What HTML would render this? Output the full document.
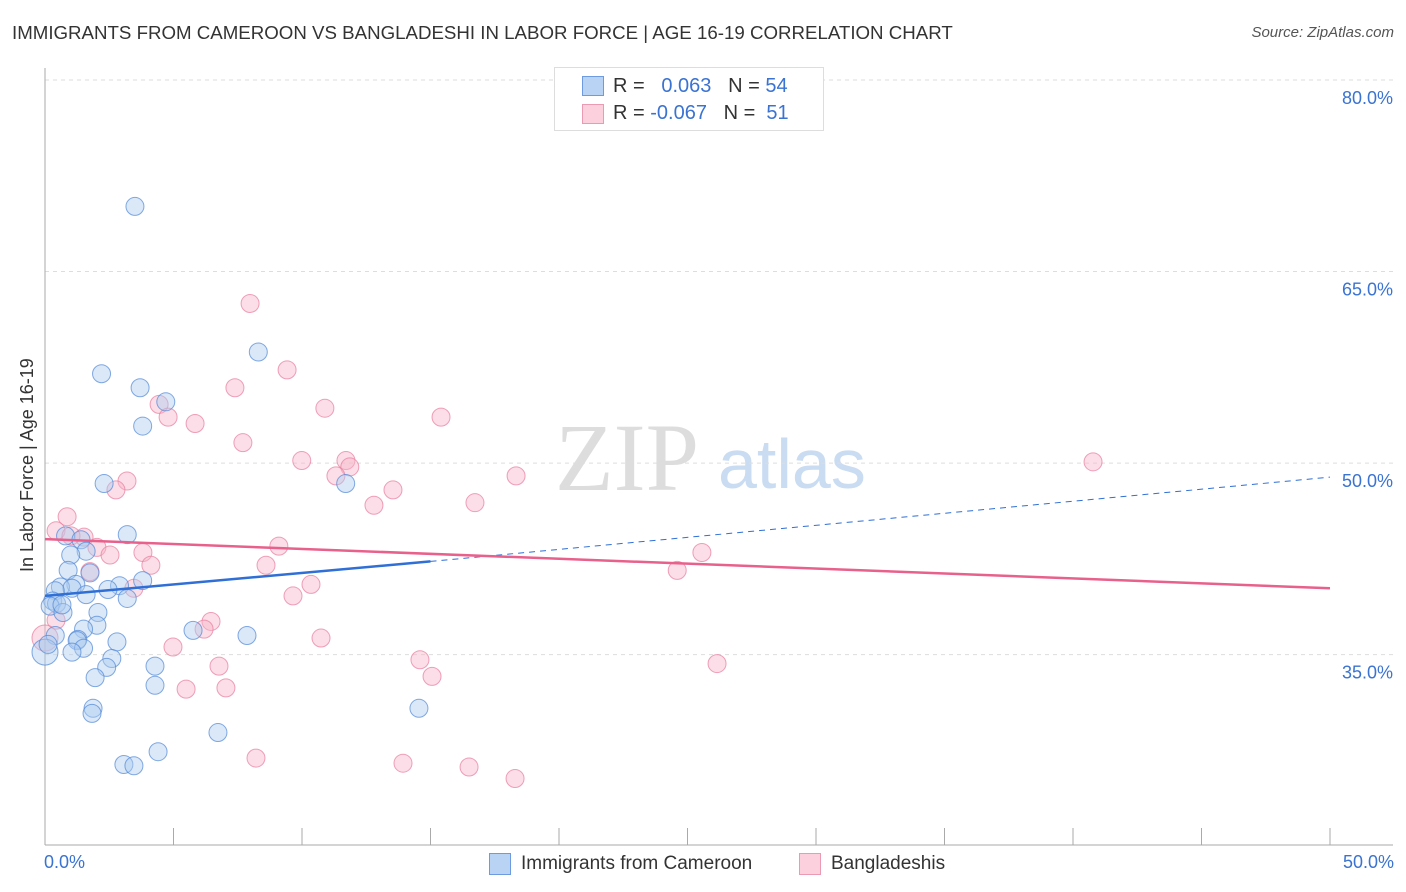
<!DOCTYPE html>
<html><head><meta charset="utf-8"><style>
body{margin:0;background:#fff;font-family:"Liberation Sans",sans-serif}
#wrap{position:relative;width:1406px;height:892px;overflow:hidden}
.t{position:absolute;white-space:nowrap}
</style></head><body>
<div id="wrap">
<div class="t" style="left:12px;top:22px;font-size:18.7px;color:#333">IMMIGRANTS FROM CAMEROON VS BANGLADESHI IN LABOR FORCE | AGE 16-19 CORRELATION CHART</div>
<div class="t" style="right:12px;top:24px;font-size:15px;color:#555;font-style:italic">Source: ZipAtlas.com</div>
<svg id="svg" width="1406" height="892" style="position:absolute;left:0;top:0"></svg>
</div>
<script>
// data values (x: % , y: %)
const cameroonX=[3.5,8.3,2.2,3.7,4.7,3.8,2.3,11.7,3.2,0.8,1.4,1.6,1.0,0.9,1.75,3.8,1.2,0.6,1.05,2.9,2.45,0.4,1.6,3.2,0.3,0.45,0.2,0.7,2.06,2.02,1.5,5.76,7.86,0.4,1.28,1.25,2.8,1.5,1.05,2.6,2.4,4.28,4.28,1.95,1.87,1.83,6.73,4.4,3.07,3.46,14.55,0.0,0.12,0.66];
const cameroonY=[70.1,58.7,57.0,55.9,54.8,52.9,48.4,48.4,44.4,44.3,44.0,43.1,42.8,41.6,41.4,40.8,40.5,40.3,40.2,40.4,40.1,40.0,39.7,39.4,39.2,39.0,38.8,38.3,38.3,37.3,37.0,36.9,36.5,36.5,36.2,36.1,36.0,35.5,35.2,34.7,34.0,34.1,32.6,33.2,30.8,30.4,28.9,27.4,26.4,26.3,30.8,35.2,35.8,38.9];
const bangladeshiX=[7.98,9.42,7.39,4.44,10.89,4.79,5.84,15.41,7.7,9.99,11.71,11.86,11.32,18.33,40.78,3.19,2.76,13.54,12.8,16.73,0.86,0.43,1.52,1.01,2.02,2.53,3.81,9.1,25.56,4.12,8.6,1.75,24.6,10.35,3.46,9.65,6.46,6.19,0.43,10.74,4.98,14.59,6.77,15.06,26.15,5.49,7.04,8.21,13.93,16.5,18.29,0.0];
const bangladeshiY=[62.5,57.3,55.9,54.6,54.3,53.6,53.1,53.6,51.6,50.2,50.2,49.7,49.0,49.0,50.1,48.6,47.9,47.9,46.7,46.9,45.8,44.7,44.2,44.3,43.4,42.8,43.0,43.5,43.0,42.0,42.0,41.5,41.6,40.5,40.2,39.6,37.6,37.0,37.7,36.3,35.6,34.6,34.1,33.3,34.3,32.3,32.4,26.9,26.5,26.2,25.3,36.3];
const blueTrend=[[0,39.6],[15,42.3],[50,48.9]];
const pinkTrend=[[0,44.05],[50,40.2]];
const yTicks=[80,65,50,35];
const yTickLabels=["80.0%","65.0%","50.0%","35.0%"];
</script>
<script>
const svg=document.getElementById('svg');const NS='http://www.w3.org/2000/svg';
const X0=45,X1=1330,Y80=80,PPU=12.77;
const sx=v=>X0+(X1-X0)*v/50, sy=v=>Y80+(80-v)*PPU;
function mk(tag,a,p){const e=document.createElementNS(NS,tag);for(const k in a)e.setAttribute(k,a[k]);(p||svg).appendChild(e);return e;}
let wm=mk('text',{x:555,y:490,'font-size':96,'font-family':'Liberation Serif,serif',fill:'#ddd'});wm.textContent='ZIP';


let wm2=mk('text',{x:718,y:488,'font-size':70,'font-family':'Liberation Sans,sans-serif',fill:'#c9dcf2'});wm2.textContent='atlas';


yTicks.forEach((t,i)=>{
 const g=mk('line',{x1:45,x2:1393,y1:sy(t),y2:sy(t),stroke:'#ddd','stroke-dasharray':'4,4'});
 
 
 const l=mk('text',{x:1393,y:sy(t)+24,'text-anchor':'end','font-size':18,fill:'#3a73d1'});l.textContent=yTickLabels[i];
 
 
});
let ax=mk('line',{x1:45,x2:45,y1:68,y2:845,stroke:'#aaa'});


let bx=mk('line',{x1:45,x2:1393,y1:845,y2:845,stroke:'#aaa'});


for(let i=0;i<=10;i++){const t=mk('line',{x1:sx(i*5),x2:sx(i*5),y1:828,y2:845,stroke:'#aaa'});
 
 }
function pts(xs,ys,fill,stroke,name){xs.forEach((v,i)=>{const c=mk('circle',{cx:sx(v),cy:sy(ys[i]),r:(v===0?13:9),fill:fill,'fill-opacity':0.45,stroke:stroke,'stroke-opacity':0.7,'stroke-width':1});
 
 });}
pts(bangladeshiX,bangladeshiY,'#f7b6ca','#e87a9d','bangladeshi-point');
pts(cameroonX,cameroonY,'#aecbf0','#4f86d6','cameroon-point');
let b1=mk('line',{x1:sx(blueTrend[0][0]),y1:sy(blueTrend[0][1]),x2:sx(blueTrend[1][0]),y2:sy(blueTrend[1][1]),stroke:'#2f6fd6','stroke-width':2.5});


let b2=mk('line',{x1:sx(blueTrend[1][0]),y1:sy(blueTrend[1][1]),x2:sx(blueTrend[2][0]),y2:sy(blueTrend[2][1]),stroke:'#2f6fd6','stroke-width':1,'stroke-dasharray':'6,5'});


let p1=mk('line',{x1:sx(pinkTrend[0][0]),y1:sy(pinkTrend[0][1]),x2:sx(pinkTrend[1][0]),y2:sy(pinkTrend[1][1]),stroke:'#e8608c','stroke-width':2.5});


</script>
<div class="t" style="transform:rotate(-90deg);transform-origin:0 0;font-size:18px;color:#333;top:572px;left:17px">In Labor Force | Age 16-19</div>
<div class="t" style="left:44px;top:852px;font-size:18px;color:#3a73d1">0.0%</div>
<div class="t" style="right:12px;top:852px;font-size:18px;color:#3a73d1">50.0%</div>
<div style="position:absolute;left:554px;top:67px;width:268px;height:62px;border:1px solid #ddd;background:#fff">
 <div style="position:absolute;left:27px;top:8px;width:20px;height:18px;background:#b9d3f5;border:1px solid #6e9be0"></div>
 <div class="t" style="left:58px;top:7px;font-size:20px;color:#333">R = <span style="color:#3a73d1">&nbsp;&nbsp;0.063</span>&nbsp;&nbsp;&nbsp;N = <span style="color:#3a73d1">54</span></div>
 <div style="position:absolute;left:27px;top:36px;width:20px;height:18px;background:#fcd0dd;border:1px solid #eb9ab4"></div>
 <div class="t" style="left:58px;top:34px;font-size:20px;color:#333">R = <span style="color:#3a73d1">-0.067</span>&nbsp;&nbsp;&nbsp;N = <span style="color:#3a73d1">&nbsp;51</span></div>
</div>
<div style="position:absolute;left:489px;top:853px;width:20px;height:20px;background:#b9d3f5;border:1px solid #6e9be0"></div>
<div class="t" style="left:521px;top:853px;font-size:19px;color:#333">Immigrants from Cameroon</div>
<div style="position:absolute;left:799px;top:853px;width:20px;height:20px;background:#fcd0dd;border:1px solid #eb9ab4"></div>
<div class="t" style="left:831px;top:853px;font-size:19px;color:#333">Bangladeshis</div>
</body></html>
